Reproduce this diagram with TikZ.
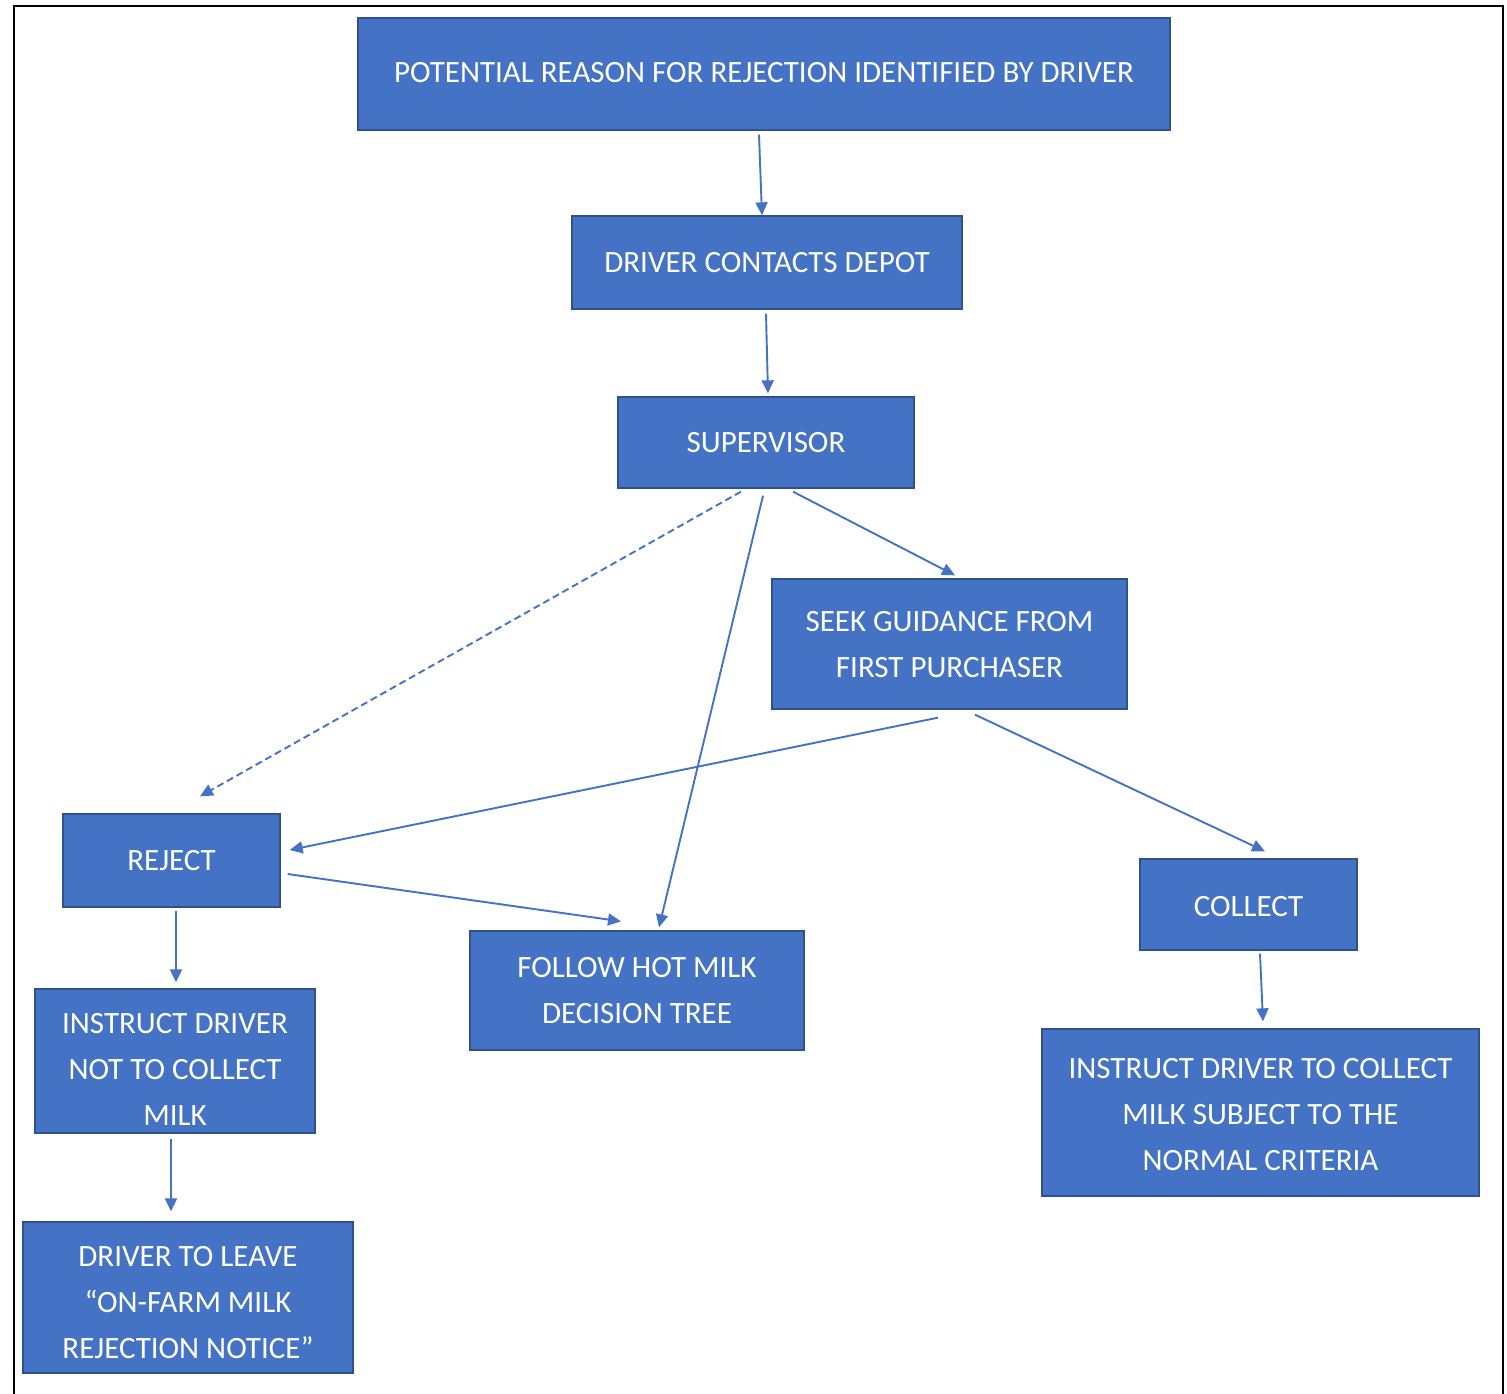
\documentclass[tikz,border=0pt]{standalone}
\usepackage{fontspec}
\setmainfont{Carlito}
\usetikzlibrary{arrows.meta,calc}
\definecolor{boxblue}{HTML}{4472C4}
\definecolor{boxedge}{HTML}{2F528F}
\newcommand{\boxtxt}[2]{\raisebox{-#1}[\height][\depth]{\begin{tabular}{@{}c@{}}#2\end{tabular}}}
\begin{document}
\begin{tikzpicture}[x=1pt,y=-1pt,
  box/.style={draw=boxedge,line width=1.3pt,fill=boxblue,text=white,align=center,
    inner sep=0pt,font=\fontsize{31}{46}\selectfont},
  conn/.style={draw=boxblue,line width=1.9pt,-{Triangle[length=13pt,width=12pt]}}]
\useasboundingbox (0,0) rectangle (1507,1394);
\draw[line width=2.2pt] (14,1400) -- (14,6) -- (1503,6) -- (1503,1400);
% nodes
\node[box,minimum width=812pt,minimum height=112pt] (top) at (764,74) {\boxtxt{-1pt}{POTENTIAL REASON FOR REJECTION IDENTIFIED BY DRIVER}};
\node[box,minimum width=390pt,minimum height=93pt] (depot) at (767,262.5) {DRIVER CONTACTS DEPOT};
\node[box,minimum width=296pt,minimum height=91pt] (sup) at (766,442.5) {SUPERVISOR};
\node[box,minimum width=355pt,minimum height=130pt] (seek) at (949.5,644) {\boxtxt{1pt}{SEEK GUIDANCE FROM\\FIRST PURCHASER}};
\node[box,minimum width=217pt,minimum height=93pt] (reject) at (171.5,860.5) {\boxtxt{1pt}{REJECT}};
\node[box,minimum width=334pt,minimum height=119pt] (hot) at (637,990.5) {\boxtxt{1pt}{FOLLOW HOT MILK\\DECISION TREE}};
\node[box,minimum width=217pt,minimum height=91pt] (collect) at (1248.5,904.5) {\boxtxt{3pt}{COLLECT}};
\node[box,minimum width=280pt,minimum height=144pt] (notcoll) at (175,1061) {\boxtxt{9pt}{INSTRUCT DRIVER\\NOT TO COLLECT\\MILK}};
\node[box,minimum width=330pt,minimum height=151pt] (leave) at (188,1297.5) {\boxtxt{6pt}{DRIVER TO LEAVE\\“ON-FARM MILK\\REJECTION NOTICE”}};
\node[box,minimum width=437pt,minimum height=167pt] (instcoll) at (1260.5,1112.5) {\boxtxt{3pt}{INSTRUCT DRIVER TO COLLECT\\MILK SUBJECT TO THE\\NORMAL CRITERIA}};
% connectors
\draw[conn] ($(top.south)+(-5,4)$) -- ($(depot.north)+(-5,0)$);
\draw[conn] ($(depot.south)+(-1,4)$) -- ($(sup.north)+(2,-3)$);
\draw[conn] ($(sup.south)+(27,3)$) -- ($(seek.north)+(5.5,-3)$);
\draw[conn,dashed,dash pattern=on 7pt off 4pt] ($(sup.south)+(-25,3)$) -- ($(reject.north)+(28.5,-17)$);
\draw[conn] ($(sup.south)+(-3,7)$) -- ($(hot.north)+(22,-3)$);
\draw[conn] ($(seek.south)+(-11.5,8)$) -- ($(reject.east)+(9,-10.5)$);
\draw[conn] ($(seek.south)+(25.5,5)$) -- ($(collect.north)+(16.5,-7)$);
\draw[conn] ($(reject.east)+(7,13.5)$) -- ($(hot.north)+(-16,-9)$);
\draw[conn] ($(reject.south)+(4.5,3)$) -- ($(notcoll.north)+(1,-6)$);
\draw[conn] ($(notcoll.south)+(-4,5)$) -- ($(leave.north)+(-17,-10)$);
\draw[conn] ($(collect.south)+(11.5,3)$) -- ($(instcoll.north)+(2.5,-7)$);
\end{tikzpicture}
\end{document}
